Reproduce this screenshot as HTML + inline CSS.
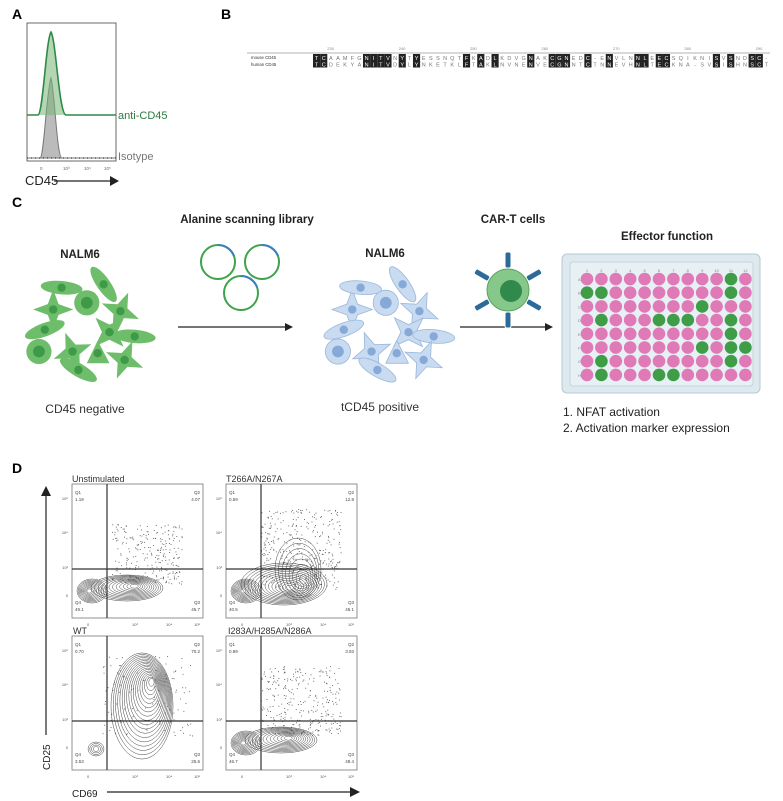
<!DOCTYPE html>
<html><head><meta charset="utf-8"><style>
html,body{margin:0;padding:0;background:#fff}
svg{display:block}
text{font-family:"Liberation Sans",Arial,sans-serif}
</style></head><body>
<svg id="s" width="783" height="801" viewBox="0 0 783 801" xmlns="http://www.w3.org/2000/svg">
<rect width="783" height="801" fill="#fff"/>
<!-- Panel A -->
<text x="12" y="19" font-size="14" font-weight="bold">A</text>
<rect x="27" y="23" width="89" height="138" fill="none" stroke="#444" stroke-width="0.8"/>
<path d="M27,158 L40,158 C44,158 46,95 51,78 C55,95 57,158 62,158 L116,158 Z" fill="#bbb" stroke="#777" stroke-width="1"/>
<path d="M27,115 L38,115 C43,114 46,40 51,32 C56,40 59,114 66,115 L116,115" fill="rgba(120,180,120,0.55)" stroke="#2d8a45" stroke-width="1.6"/>
<line x1="27" y1="158" x2="116" y2="158" stroke="#555" stroke-width="1.5" stroke-dasharray="1,3"/>
<text x="118" y="119" font-size="11" fill="#2d7a3e">anti-CD45</text>
<text x="118" y="160" font-size="11" fill="#777">Isotype</text>
<g font-size="4.5" fill="#666"><text x="40" y="170">0</text><text x="63" y="170">10³</text><text x="84" y="170">10⁴</text><text x="104" y="170">10⁵</text></g>
<text x="25" y="185" font-size="13" fill="#222">CD45</text>
<line x1="54" y1="181" x2="110" y2="181" stroke="#222" stroke-width="1.2"/>
<polygon points="110,176 119,181 110,186" fill="#222"/>
<!-- Panel B -->
<text x="221" y="19" font-size="14" font-weight="bold">B</text>
<line x1="247" y1="53" x2="770" y2="53" stroke="#99a" stroke-width="0.8"/>
<text x="251" y="59" font-size="4.3" fill="#333">mouse CD45</text>
<text x="251" y="66" font-size="4.3" fill="#333">human CD45</text>
<g id="seq"></g>
<!-- Panel C -->
<text x="12" y="207" font-size="14" font-weight="bold">C</text>
<g font-weight="bold" font-size="11.5" fill="#222" text-anchor="middle">
<text x="247" y="223">Alanine scanning library</text>
<text x="513" y="223">CAR-T cells</text>
<text x="667" y="240">Effector function</text>
<text x="80" y="258">NALM6</text>
<text x="385" y="257">NALM6</text>
</g>
<g font-size="12" fill="#333" text-anchor="middle">
<text x="85" y="413">CD45 negative</text>
<text x="380" y="411">tCD45 positive</text>
</g>
<g font-size="12" fill="#222">
<text x="563" y="416">1. NFAT activation</text>
<text x="563" y="432">2. Activation marker expression</text>
</g>
<g id="cells"></g>
<g fill="none" stroke-width="2">
<circle cx="218" cy="262" r="17" stroke="#3ea34a"/><path d="M218,245 A17,17 0 0 1 234,256" stroke="#3a7fc2"/>
<circle cx="262" cy="262" r="17" stroke="#3ea34a"/><path d="M262,245 A17,17 0 0 1 278,256" stroke="#3a7fc2"/>
<circle cx="241" cy="293" r="17" stroke="#3ea34a"/><path d="M241,276 A17,17 0 0 1 257,287" stroke="#3a7fc2"/>
</g>
<line x1="178" y1="327" x2="286" y2="327" stroke="#222" stroke-width="1.3"/><polygon points="285,323 293,327 285,331" fill="#222"/>
<line x1="460" y1="327" x2="546" y2="327" stroke="#222" stroke-width="1.3"/><polygon points="545,323 553,327 545,331" fill="#222"/>
<g id="cart"></g>
<rect x="562" y="254" width="198" height="139" rx="5" fill="#dde9ef" stroke="#b5c9d3"/>
<rect x="570" y="262" width="183" height="124" rx="3" fill="#e7f0f4" stroke="#c5d5dc"/>
<g id="plate"></g>
<!-- Panel D -->
<text x="12" y="473" font-size="14" font-weight="bold">D</text>
<g font-size="9" fill="#333">
<text x="72" y="482">Unstimulated</text>
<text x="226" y="482">T266A/N267A</text>
<text x="73" y="634">WT</text>
<text x="228" y="634">I283A/H285A/N286A</text>
</g>
<g id="facs"></g>
<line x1="46" y1="735" x2="46" y2="495" stroke="#222" stroke-width="1.2"/><polygon points="41,496 46,486 51,496" fill="#222"/>
<text transform="translate(50,770) rotate(-90)" font-size="10" fill="#222">CD25</text>
<text x="72" y="797" font-size="10" fill="#222">CD69</text>
<line x1="107" y1="792" x2="352" y2="792" stroke="#222" stroke-width="1.2"/><polygon points="350,787 360,792 350,797" fill="#222"/>
</svg>
<script>
var NS="http://www.w3.org/2000/svg";
function el(p,t,a,txt){var e=document.createElementNS(NS,t);for(var k in a)e.setAttribute(k,a[k]);if(txt!=null)e.textContent=txt;p.appendChild(e);return e;}
var g=document.getElementById('seq');
var m="TCAAMFGNITVNYTYESSNQTFKADLKDVGNAKCGNEDC-ENVLNNLEECSQIKNISVSNDSC-";
var h="TCDEKYANITVDYLYNKETKLFTAKLNVNENVECGNNTCTNNEVHNLTECKNA-SVSISHNSCT";
var x0=313,w=(770-x0)/64;
for(var i=0;i<64;i++){var x=x0+i*w;var same=m[i]==h[i]&&m[i]!='-';
 if(same)el(g,'rect',{x:x,y:54,width:w,height:13.5,fill:'#222'});
 el(g,'text',{x:x+w/2,y:60,'font-size':5.5,'text-anchor':'middle',fill:same?'#fff':'#777'},m[i]);
 el(g,'text',{x:x+w/2,y:66.5,'font-size':5.5,'text-anchor':'middle',fill:same?'#fff':'#777'},h[i]);}
[230,240,250,260,270,280,290].forEach(function(n,j){el(g,'text',{x:x0+(j*10+2)*w,y:50,'font-size':4,fill:'#888'},n)});
var c=document.getElementById('cells');
var shapes=[[-45,-22,'s',0],[-5,-30,'r',0],[35,-20,'s',1],[-55,2,'e',0],[22,5,'s',2],[52,10,'e',1],[-62,28,'r',0],[-22,28,'s',3],[8,30,'t',0],[40,38,'s',1],[-15,50,'e',2],[-35,-48,'e',1],[15,-52,'e',3]];
function cluster(cx,cy,fill,nuc,stroke){
 var G=el(c,'g',{transform:'translate('+cx+','+cy+') scale(0.84,0.84)'});
 shapes.forEach(function(s){var x=s[0],y=s[1];
  if(s[2]=='r'){el(G,'circle',{cx:x,cy:y,r:15,fill:fill,stroke:stroke});}
  else if(s[2]=='e'){el(G,'ellipse',{cx:x,cy:y,rx:25,ry:8,fill:fill,stroke:stroke,transform:'rotate('+(s[3]*25-20)+' '+x+' '+y+')'});}
  else if(s[2]=='t'){el(G,'path',{d:'M'+x+','+(y-15)+' L'+(x+14)+','+(y+12)+' L'+(x-13)+','+(y+12)+'Z',fill:fill,stroke:stroke,'stroke-linejoin':'round'});}
  else{var pts=[];for(var k=0;k<8;k++){var a=k*Math.PI/4+s[3]*0.4;var r=k%2?9:24;pts.push((x+r*Math.cos(a)).toFixed(1)+','+(y+r*Math.sin(a)).toFixed(1));}
   el(G,'polygon',{points:pts.join(' '),fill:fill,stroke:stroke});}
  el(G,'circle',{cx:x,cy:y,r:s[2]=='r'?7:5,fill:nuc});});}
cluster(91,328,'#6dbd6a','#3e9a48','none');
cluster(390,328,'#c8dbf0','#86a9d8','#9db8dc');
var ct=document.getElementById('cart');
for(var k=0;k<6;k++){var a=-Math.PI/2+k*Math.PI/3;var x=508+30*Math.cos(a),y=290+30*Math.sin(a);
 el(ct,'rect',{x:x-3,y:y-8,width:6,height:16,rx:2,fill:'#2c6a9a',stroke:'#fff','stroke-width':1,transform:'rotate('+(a*180/Math.PI+90)+' '+x+' '+y+')'});}
el(ct,'circle',{cx:508,cy:290,r:21,fill:'#86c78a',stroke:'#5aa35e'});
el(ct,'circle',{cx:511,cy:291,r:11,fill:'#2f8a4c'});
var p=document.getElementById('plate');
var green={0:[11],1:[1,2,11],2:[9],3:[2,6,7,8,11],4:[11],5:[9,11,12],6:[2,11],7:[2,6,7]};
for(var j=1;j<=12;j++)el(p,'text',{x:587+(j-1)*14.4,y:272,'font-size':4,'text-anchor':'middle',fill:'#888'},j);
for(var r=0;r<8;r++){el(p,'text',{x:578,y:281+r*13.7,'font-size':4,fill:'#888'},'ABCDEFGH'[r]);
 for(var j=1;j<=12;j++){var gr=green[r].indexOf(j)>=0;el(p,'circle',{cx:587+(j-1)*14.4,cy:279+r*13.7,r:6.3,fill:gr?'#3f9c47':'#e07ab6'});}}
var f=document.getElementById('facs');
var rnd=(function(){var s=7;return function(){s=(s*16807)%2147483647;return s/2147483647;}})();
function box(bx,by,q,blobs,scat){
 var W=131,H=134;
 el(f,'rect',{x:bx,y:by,width:W,height:H,fill:'#fff',stroke:'#777','stroke-width':0.8});
 for(var i=0;i<scat[0];i++){var x=bx+scat[1]+rnd()*scat[2],y=by+scat[3]+rnd()*scat[4];el(f,'rect',{x:x,y:y,width:0.9,height:0.9,fill:'#555'});}
 blobs.forEach(function(b){for(var k=0;k<b[4];k++){var t=k/b[4];el(f,'ellipse',{cx:bx+b[0]+t*(b[5]||0),cy:by+b[1]+t*(b[6]||0),rx:b[2]*(1-t)+1,ry:b[3]*(1-t)+1,fill:'none',stroke:'#444','stroke-width':0.5});}});
 el(f,'line',{x1:bx+35,y1:by,x2:bx+35,y2:by+H,stroke:'#333','stroke-width':1.2});
 el(f,'line',{x1:bx,y1:by+85,x2:bx+W,y2:by+85,stroke:'#333','stroke-width':1.2});
 var a={'font-size':4.5,fill:'#444'};
 el(f,'text',Object.assign({x:bx+3,y:by+10},a),'Q1');el(f,'text',Object.assign({x:bx+3,y:by+17},a),q[0]);
 el(f,'text',Object.assign({x:bx+W-3,y:by+10,'text-anchor':'end'},a),'Q2');el(f,'text',Object.assign({x:bx+W-3,y:by+17,'text-anchor':'end'},a),q[1]);
 el(f,'text',Object.assign({x:bx+3,y:by+120},a),'Q4');el(f,'text',Object.assign({x:bx+3,y:by+127},a),q[3]);
 el(f,'text',Object.assign({x:bx+W-3,y:by+120,'text-anchor':'end'},a),'Q3');el(f,'text',Object.assign({x:bx+W-3,y:by+127,'text-anchor':'end'},a),q[2]);
 var t={'font-size':4,fill:'#555'};
 [['10⁵',16],['10⁴',50],['10³',85],['0',113]].forEach(function(v){el(f,'text',Object.assign({x:bx-4,y:by+v[1],'text-anchor':'end'},t),v[0]);});
 [['0',15],['10³',60],['10⁴',94],['10⁵',122]].forEach(function(v){el(f,'text',Object.assign({x:bx+v[1],y:by+H+8},t),v[0]);});
}
box(72,484,['1.19','4.07','45.7','49.1'],[[20,107,14,11,10,-3,0],[55,104,35,12,12,8,-2]],[250,40,70,40,60]);
box(226,484,['0.59','12.8','46.1','40.5'],[[20,107,14,11,10,-3,0],[58,100,42,20,14,6,4],[72,85,22,30,8,6,12]],[350,35,80,25,80]);
box(72,636,['0.70','70.2','25.6','3.53'],[[70,70,30,52,18,10,-25],[24,113,7,6,4,0,0]],[120,30,90,20,80]);
box(226,636,['0.99','3.93','48.4','46.7'],[[20,107,14,11,10,-3,0],[55,104,35,12,12,8,-2]],[300,35,80,30,70]);
</script>
</body></html>
